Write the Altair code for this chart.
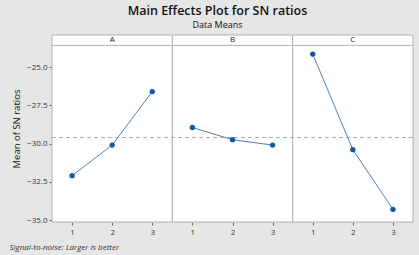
import altair as alt
import pandas as pd

# Main effects of three factors on the signal-to-noise ratio
factors = ["A", "B", "C"]
levels = [1, 2, 3]
sn_A = [-32.1, -30.1, -26.6]
sn_B = [-28.95, -29.75, -30.1]
sn_C = [-24.15, -30.4, -34.3]
y_ticks = [-25.0, -27.5, -30.0, -32.5, -35.0]

series = {"A": sn_A, "B": sn_B, "C": sn_C}
rows = []
for k, f in enumerate(factors):
    for lv, v in zip(levels, series[f]):
        rows.append({"factor": f, "level": lv, "pos": 3 * k + lv, "sn": v})
df = pd.DataFrame(rows)
grand_mean = df["sn"].mean()

# value range of the panels and of the strip above them
y_bottom, y_panel_top, y_strip_top = -35.13, -23.58, -22.9
panels = pd.DataFrame({
    "factor": factors,
    "x0": [0.5 + 3 * k for k in range(3)],
    "x1": [3.5 + 3 * k for k in range(3)],
    "xc": [2 + 3 * k for k in range(3)],
    "y0": [y_bottom] * 3,
    "y1": [y_panel_top] * 3,
    "s1": [y_strip_top] * 3,
    "sm": [(y_panel_top + y_strip_top) / 2] * 3,
})

xs = alt.Scale(domain=[0.5, 9.5], nice=False, zero=False)
ys = alt.Scale(domain=[y_bottom, y_strip_top], nice=False, zero=False)

frame_col = "#b4b4b4"
base = alt.Chart(panels)

frames = base.mark_rect(fill="white", stroke=frame_col, strokeWidth=1).encode(
    x=alt.X("x0:Q", scale=xs,
            axis=alt.Axis(values=list(range(1, 10)),
                          labelExpr="((datum.value - 1) % 3) + 1",
                          domain=False, grid=False, tickSize=3,
                          tickColor="#666", labelFontSize=8, labelColor="#333",
                          labelPadding=3,
                          title="Signal-to-noise: Larger is better",
                          titleFontSize=8, titleFontStyle="italic",
                          titleFontWeight="normal", titleColor="#333",
                          titleAnchor="start", titleAlign="left",
                          titleBaseline="alphabetic",
                          titleX=-43, titleY=27)),
    x2="x1:Q",
    y=alt.Y("y0:Q", scale=ys,
            axis=alt.Axis(values=y_ticks, format=".1f", domain=False,
                          grid=False, tickSize=3, tickColor="#666",
                          labelFontSize=8, labelColor="#333", labelPadding=2,
                          title="Mean of SN ratios", titleFontSize=9.5,
                          titleFontWeight="normal", titleColor="#111",
                          titlePadding=5)),
    y2="y1:Q",
)

strips = base.mark_rect(fill="white", stroke=frame_col, strokeWidth=1).encode(
    x=alt.X("x0:Q", scale=xs), x2="x1:Q",
    y=alt.Y("y1:Q", scale=ys), y2="s1:Q",
)

strip_text = base.mark_text(fontSize=8, color="#222", baseline="middle").encode(
    x=alt.X("xc:Q", scale=xs), y=alt.Y("sm:Q", scale=ys), text="factor:N",
)

ref = alt.Chart(pd.DataFrame({"m": [grand_mean], "a": [0.5], "b": [9.5]})).mark_rule(
    color="#b0b0b0", strokeDash=[4, 3], strokeWidth=1
).encode(x=alt.X("a:Q", scale=xs), x2="b:Q", y=alt.Y("m:Q", scale=ys))

pts = alt.Chart(df)
lines = pts.mark_line(color="#4d7fbf", strokeWidth=1).encode(
    x=alt.X("pos:Q", scale=xs), y=alt.Y("sn:Q", scale=ys), detail="factor:N",
)
dots = pts.mark_point(filled=True, color="#1556a0", size=28, opacity=1).encode(
    x=alt.X("pos:Q", scale=xs), y=alt.Y("sn:Q", scale=ys),
)

chart = alt.layer(frames, strips, strip_text, ref, lines, dots).properties(
    width=361, height=187,
    autosize=alt.AutoSizeParams(type="none"),
    padding={"left": 52, "top": 35, "right": 6, "bottom": 33},
    background="#e6e6e6",
    title=alt.Title("Main Effects Plot for SN ratios", subtitle="Data Means",
                    fontSize=12.5, fontWeight=600, color="#111",
                    subtitleFontSize=9, subtitleColor="#111",
                    subtitlePadding=3, anchor="middle", dx=-15, offset=5,
                    font="Open Sans", subtitleFont="Open Sans"),
).configure_view(stroke=None, fill=None).configure(font="Open Sans")

chart.save("out.html", embed_options={"renderer": "svg", "actions": False})
